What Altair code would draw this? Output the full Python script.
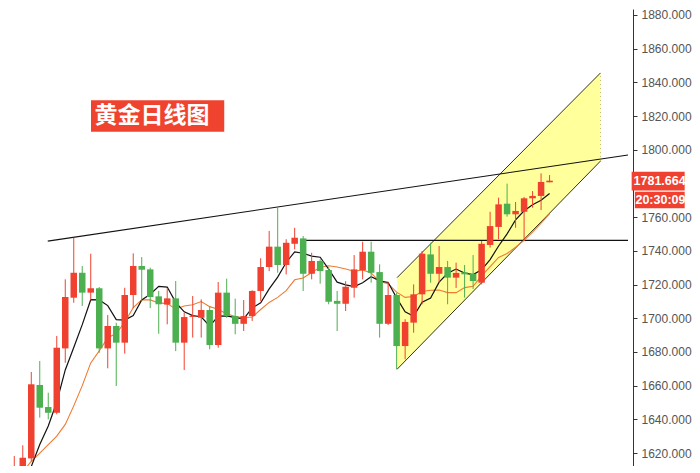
import altair as alt
import pandas as pd

# ---- candle data (index, OHLC) ----
opens = [1603.0, 1611.3, 1616.8, 1660.4, 1647.3, 1643.9, 1682.1, 1712.2, 1727.0, 1715.2,
         1717.8, 1682.1, 1695.4, 1685.5, 1713.8, 1731.0, 1729.0, 1713.0, 1708.1, 1711.8,
         1685.5, 1700.8, 1700.3, 1704.9, 1684.1, 1715.2, 1701.3, 1696.7, 1701.3, 1716.2,
         1730.4, 1742.5, 1731.6, 1744.2, 1747.4, 1726.4, 1734.0, 1728.6, 1710.3, 1708.6,
         1718.1, 1728.5, 1739.5, 1727.4, 1696.7, 1713.8, 1683.5, 1697.4, 1714.2, 1737.9,
         1726.4, 1730.4, 1724.1, 1727.3, 1726.4, 1721.1, 1743.5, 1754.2, 1768.0, 1761.7,
         1763.2, 1771.2, 1772.6, 1780.7]
highs = [1618.2, 1624.6, 1668.1, 1674.6, 1655.8, 1689.5, 1723.1, 1747.8, 1731.0, 1738.3,
         1718.5, 1701.9, 1697.3, 1718.1, 1738.5, 1736.3, 1730.0, 1716.2, 1717.8, 1722.1,
         1703.3, 1713.2, 1711.2, 1707.3, 1721.5, 1723.5, 1711.6, 1710.8, 1716.6, 1735.6,
         1751.8, 1766.0, 1746.9, 1753.7, 1748.8, 1738.9, 1735.0, 1730.4, 1716.2, 1722.0,
         1737.5, 1745.4, 1745.4, 1732.0, 1721.7, 1715.2, 1699.4, 1720.1, 1739.9, 1744.8,
         1742.9, 1734.0, 1733.0, 1731.6, 1737.5, 1745.8, 1763.2, 1771.6, 1779.9, 1769.0,
         1772.0, 1775.5, 1786.0, 1785.0]
lows = [1600.0, 1607.7, 1615.0, 1641.0, 1640.0, 1643.0, 1673.6, 1709.2, 1707.3, 1710.6,
        1679.5, 1670.3, 1659.8, 1679.0, 1705.9, 1710.3, 1706.0, 1690.8, 1696.4, 1680.5,
        1669.3, 1688.5, 1688.5, 1681.6, 1682.5, 1700.3, 1690.5, 1692.4, 1698.4, 1710.3,
        1728.0, 1727.0, 1726.0, 1740.9, 1716.2, 1723.1, 1720.5, 1708.3, 1692.4, 1704.3,
        1712.2, 1723.1, 1721.1, 1688.5, 1696.0, 1669.7, 1675.6, 1691.4, 1708.3, 1721.1,
        1721.1, 1708.3, 1718.0, 1712.2, 1717.4, 1720.1, 1741.9, 1746.9, 1760.3, 1753.7,
        1746.0, 1765.6, 1764.2, 1780.7]
closes = [1611.3, 1617.2, 1660.8, 1646.9, 1643.9, 1682.5, 1712.6, 1727.0, 1715.2, 1717.8,
          1682.1, 1695.4, 1685.5, 1713.8, 1731.0, 1728.8, 1712.6, 1708.3, 1711.8, 1685.5,
          1700.7, 1701.5, 1704.9, 1684.1, 1715.2, 1701.3, 1696.7, 1701.3, 1716.2, 1730.4,
          1742.5, 1731.6, 1744.8, 1747.8, 1726.4, 1734.0, 1728.0, 1709.8, 1708.6, 1718.7,
          1729.0, 1739.5, 1727.0, 1696.7, 1713.8, 1683.5, 1697.8, 1714.2, 1738.3, 1726.4,
          1730.4, 1724.1, 1726.9, 1726.1, 1722.1, 1744.2, 1754.7, 1767.6, 1761.7, 1763.7,
          1771.2, 1772.6, 1780.9, 1781.664]

# ---- moving averages ----
ma5 = [1590.0, 1600.0, 1612.0, 1625.0, 1636.0, 1650.3, 1669.3, 1682.6, 1696.2, 1711.0,
       1710.9, 1707.5, 1699.2, 1698.9, 1701.6, 1710.9, 1714.3, 1718.9, 1718.5, 1709.4,
       1703.8, 1701.6, 1700.9, 1695.3, 1701.3, 1701.4, 1700.4, 1699.7, 1706.1, 1709.2,
       1717.4, 1724.4, 1733.1, 1739.4, 1738.6, 1736.9, 1736.2, 1729.2, 1721.4, 1719.8,
       1718.8, 1721.1, 1724.6, 1722.2, 1721.2, 1712.1, 1703.8, 1701.2, 1709.5, 1712.0,
       1721.4, 1726.7, 1729.2, 1726.8, 1725.9, 1728.7, 1734.8, 1742.9, 1750.1, 1758.4,
       1763.8, 1767.4, 1770.0, 1774.0]
ma10 = [1603.0, 1609.0, 1615.0, 1620.0, 1625.0, 1630.0, 1637.0, 1648.0, 1660.0, 1673.5,
        1680.6, 1688.4, 1690.9, 1697.6, 1706.3, 1710.9, 1710.9, 1709.1, 1708.7, 1705.5,
        1707.3, 1708.0, 1709.9, 1706.9, 1705.3, 1702.6, 1701.0, 1700.3, 1700.7, 1705.2,
        1709.4, 1712.4, 1716.4, 1722.8, 1723.9, 1727.2, 1730.3, 1731.2, 1730.4, 1729.2,
        1727.9, 1728.7, 1726.9, 1721.8, 1720.5, 1715.5, 1712.4, 1712.9, 1715.9, 1716.6,
        1716.8, 1715.2, 1715.2, 1718.2, 1719.0, 1725.1, 1730.7, 1736.1, 1738.4, 1742.2,
        1746.2, 1751.1, 1756.5, 1762.0]

# ---- drawn annotations (index, price) ----
resist_x = [3.94, 72.23]
resist_y = [1745.8, 1796.9]
hline_x = [34.05, 72.23]
hline_y = [1746.2, 1746.2]
chan_x = [45.05, 68.99]
chan_lo = [1669.7, 1793.3]
chan_hi = [1724.1, 1845.6]

# 1780 is hidden under the price tag in the reference
y_ticks = [1620, 1640, 1660, 1680, 1700, 1720, 1740, 1760, 1800, 1820, 1840, 1860, 1880]
last_price = 1781.664
timer_text = "20:30:09"
title_text = "黄金日线图"

RED = "#f0402f"
GREEN = "#4caf50"

df = pd.DataFrame({"i": list(range(len(closes))), "open": opens, "high": highs,
                   "low": lows, "close": closes, "ma5": ma5, "ma10": ma10})
df["dir"] = ["up" if c >= o else "down" for o, c in zip(opens, closes)]

xs = alt.Scale(domain=[-0.15, 72.23], nice=False, zero=False)
ys = alt.Scale(domain=[1612.3, 1883.56], nice=False, zero=False)
YAX = alt.Axis(orient="right", values=y_ticks, format=".3f", title=None, grid=False,
               tickSize=4, labelPadding=4, domainColor="#333", tickColor="#333",
               labelColor="#555", labelFontSize=12, labelFont="Liberation Sans")


def Y(field):
    return alt.Y(field, scale=ys, axis=YAX, title=None)


def Xq(field):
    return alt.X(field, scale=xs, axis=None, title=None)


col = alt.Color("dir:N", scale=alt.Scale(domain=["up", "down"], range=[RED, GREEN]), legend=None)

chan_df = pd.DataFrame({"i": chan_x, "lo": chan_lo, "hi": chan_hi})
channel = alt.Chart(chan_df).mark_area(color="#ffff9c", opacity=1, clip=True).encode(
    x=Xq("i:Q"), y=Y("lo:Q"), y2="hi:Q")

edges_df = pd.DataFrame({"i": chan_x + chan_x, "p": chan_lo + chan_hi,
                         "g": ["lo", "lo", "hi", "hi"]})
edges = alt.Chart(edges_df).mark_line(color="#33331a", strokeWidth=1, clip=True).encode(
    x=Xq("i:Q"), y=Y("p:Q"), detail="g:N")

right_edge = alt.Chart(pd.DataFrame({"i": [chan_x[1]], "a": [chan_lo[1]], "b": [chan_hi[1]]})).mark_rule(
    color="#bdbd70", strokeDash=[1, 3], strokeWidth=1, clip=True).encode(
    x=Xq("i:Q"), y=Y("a:Q"), y2="b:Q")

lines_df = pd.DataFrame({"i": resist_x + hline_x, "p": resist_y + hline_y,
                         "g": ["r", "r", "h", "h"]})
tlines = alt.Chart(lines_df).mark_line(color="#111", strokeWidth=1.1, clip=True).encode(
    x=Xq("i:Q"), y=Y("p:Q"), detail="g:N")

ma10_line = alt.Chart(df).mark_line(color="#f07a32", strokeWidth=1.1, clip=True).encode(
    x=Xq("i:Q"), y=Y("ma10:Q"))
ma5_line = alt.Chart(df).mark_line(color="#111", strokeWidth=1.2, clip=True).encode(
    x=Xq("i:Q"), y=Y("ma5:Q"))

wicks = alt.Chart(df).mark_rule(strokeWidth=1, clip=True).encode(
    x=Xq("i:Q"), y=Y("low:Q"), y2="high:Q", color=col)
bodies = alt.Chart(df).mark_bar(size=6.5, clip=True).encode(
    x=Xq("i:Q"), y=Y("open:Q"), y2="close:Q", color=col)

title_box = alt.Chart(pd.DataFrame({"a": [9.03], "b": [24.71], "c": [1810.7], "d": [1829.4]})).mark_rect(
    color="#f0432f").encode(x=Xq("a:Q"), x2="b:Q", y=Y("c:Q"), y2="d:Q")
title_txt = alt.Chart(pd.DataFrame({"a": [16.2], "c": [1820.0], "t": [title_text]})).mark_text(
    font="Noto Sans CJK SC", fontWeight="bold", fontSize=23, color="white",
    align="center", baseline="middle").encode(x=Xq("a:Q"), y=Y("c:Q"), text="t:N")

tag_df = pd.DataFrame({"a": [72.66, 73.04], "b": [78.9, 78.9],
                       "c": [1775.9, 1765.3], "d": [1787.0, 1775.1],
                       "m": [75.95, 76.05], "p": [last_price, 1770.2],
                       "t": [f"{last_price:.3f}", timer_text]})
tag_box = alt.Chart(tag_df).mark_rect(color=RED).encode(
    x=Xq("a:Q"), x2="b:Q", y=Y("c:Q"), y2="d:Q")
tag_txt = alt.Chart(tag_df).mark_text(font="Liberation Sans", fontWeight="bold", fontSize=12.5,
                                      color="white", align="center", baseline="middle").encode(
    x=Xq("m:Q"), y=Y("p:Q"), text="t:N")

chart = alt.layer(channel, edges, right_edge, tlines, ma10_line, ma5_line, wicks, bodies,
                  title_box, title_txt, tag_box, tag_txt).properties(
    width=625, height=457, padding=0, background="white"
).configure_view(stroke=None)

chart.save("out.html", embed_options={"renderer": "svg", "actions": False})
